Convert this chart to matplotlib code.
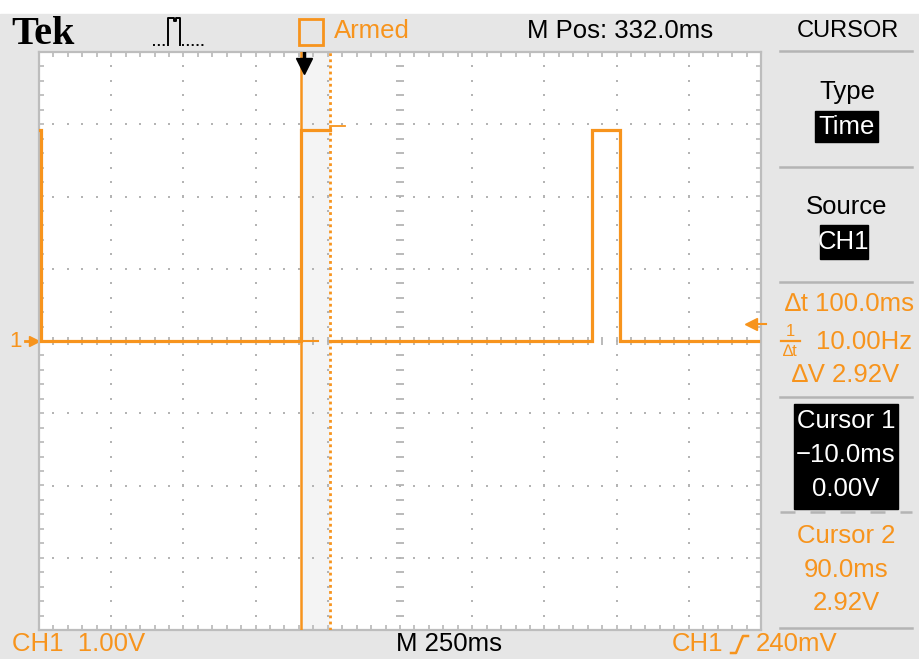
import numpy as np
import matplotlib.pyplot as plt
from matplotlib.patches import Rectangle
from matplotlib.lines import Line2D

W, H = 920, 659
ORANGE = '#f7941d'
GRID = '#b4b4b4'
PANEL = '#e6e6e6'
FONT = ['Liberation Sans', 'DejaVu Sans']
FS = 18.5

# trace, ms relative to the trigger (M Pos 332.0ms at screen centre), volts
t_left = [-918, -911, -911, -10, -10, 90]
v_left = [2.92, 2.92, 0, 0, 2.92, 2.92]
t_stub_lo = [-10, 48]
v_stub_lo = [0, 0]
t_stub_hi = [90, 142]
v_stub_hi = [2.97, 2.97]
t_right = [90, 997, 997, 1094, 1094, 1572]
v_right = [0, 0, 2.92, 2.92, 0, 0]

cursor1_t = -10
cursor2_t = 90
trig_t = 0
trig_level = 0.24
x_range = (-918, 1582)   # 10 div x 250ms
v_range = (-4, 4)        # 8 div x 1.00V


def fx(x):
    return x / W


def fy(y):
    return 1 - y / H


fig = plt.figure(figsize=(W / 100, H / 100), dpi=100)
fig.patch.set_facecolor('white')
fig.add_artist(Rectangle((0, 0), 1, fy(14), transform=fig.transFigure,
                         color=PANEL, zorder=0))

ax = fig.add_axes([fx(39), fy(630), 722 / W, 578 / H])
ax.set_facecolor('white')
ax.set_xlim(*x_range)
ax.set_ylim(*v_range)
ax.set_xticks([])
ax.set_yticks([])
for s in ax.spines.values():
    s.set_color('#bdbdbd')
    s.set_linewidth(1.6)

div_t = np.arange(x_range[0], x_range[1] + 1, 250)
div_v = np.arange(v_range[0], v_range[1] + 1, 1)
fine_t = np.arange(x_range[0], x_range[1] + 1, 50)
fine_v = np.arange(v_range[0], v_range[1] + 0.01, 0.2)
centre_t = div_t[5]

# dotted graticule
for t in div_t[1:-1]:
    if t == centre_t:
        ax.plot(np.full_like(fine_v, t), fine_v, ls='none', marker='_',
                ms=6, mew=1.3, color=GRID, zorder=1)
    else:
        ax.plot(np.full_like(fine_v, t), fine_v, ls='none', marker='s',
                ms=1.8, mew=0, color=GRID, zorder=1)
for v in div_v[1:-1]:
    if v == 0:
        ax.plot(fine_t, np.zeros_like(fine_t), ls='none', marker='|',
                ms=6, mew=1.3, color=GRID, zorder=1)
    else:
        ax.plot(fine_t, np.full_like(fine_t, v), ls='none', marker='s',
                ms=1.8, mew=0, color=GRID, zorder=1)

# border ticks
for v in v_range:
    ax.plot(fine_t, np.full_like(fine_t, v), ls='none', marker='|',
            ms=7, mew=1.3, color='#bdbdbd', zorder=1)
for t in x_range:
    ax.plot(np.full_like(fine_v, t), fine_v, ls='none', marker='_',
            ms=7, mew=1.3, color='#bdbdbd', zorder=1)

# region between cursors
ax.axvspan(cursor1_t, cursor2_t, color='#f4f4f4', zorder=0.5, lw=0)

# cursors
ax.axvline(cursor1_t, color=ORANGE, lw=1.8, zorder=3)
ax.axvline(cursor2_t, color=ORANGE, lw=2, ls=(0, (1, 1.2)), zorder=3)

# trace
ax.plot(t_left, v_left, color=ORANGE, lw=2.3, zorder=4, solid_joinstyle='miter')
ax.plot(t_stub_lo, v_stub_lo, color=ORANGE, lw=1.5, zorder=4)
ax.plot(t_stub_hi, v_stub_hi, color=ORANGE, lw=1.3, zorder=4)
ax.plot(t_right, v_right, color=ORANGE, lw=2.3, zorder=4, solid_joinstyle='miter')

# trigger position marker
ax.plot([trig_t, trig_t], [4, 3.85], color='black', lw=2.5, zorder=5)
ax.plot([trig_t], [3.8], marker='v', ms=11, color='black', zorder=5)

# trigger level marker
ax.plot([1548], [trig_level], marker='<', ms=9, color=ORANGE, zorder=5)
ax.plot([1555, 1600], [trig_level, trig_level], color=ORANGE, lw=1.5,
        zorder=5, clip_on=False)

# channel 1 ground marker
ax.plot([-965, -930], [0, 0], color=ORANGE, lw=2, clip_on=False)
ax.plot([-935], [0], marker='>', ms=7, color=ORANGE, clip_on=False)
ax.annotate('1', xy=(0, 0), xycoords=('axes fraction', 'data'),
            xytext=(-23, 0), textcoords='offset pixels', color=ORANGE,
            fontsize=16, family=FONT, ha='center', va='center',
            annotation_clip=False)

# header
fig.text(fx(11), fy(35), 'Tek', family='Liberation Serif', weight='bold',
         fontsize=29, va='center', ha='left')
icon_x = [168, 168, 174, 174, 176, 176, 180, 180]
icon_y = [45, 18, 18, 21, 21, 18, 18, 45]
fig.add_artist(Line2D([fx(x) for x in icon_x], [fy(y) for y in icon_y],
                      color='black', lw=1.4, transform=fig.transFigure))
for a, b in [(153, 167), (182, 205)]:
    fig.add_artist(Line2D([fx(a), fx(b)], [fy(45), fy(45)], color='black',
                          lw=1.4, ls=(0, (1, 1.5)), transform=fig.transFigure))
fig.add_artist(Rectangle((fx(299), fy(45)), 24 / W, 26 / H, fill=False,
                         ec=ORANGE, lw=2, transform=fig.transFigure))
fig.text(fx(334), fy(31), 'Armed', color=ORANGE, family=FONT, fontsize=FS,
         va='center', ha='left')
fig.text(fx(620), fy(31), 'M Pos: 332.0ms', family=FONT, fontsize=FS,
         va='center', ha='center')
fig.text(fx(848), fy(31), 'CURSOR', family=FONT, fontsize=17,
         va='center', ha='center')


def divider(y, dashed=False):
    fig.add_artist(Line2D([fx(780), fx(912)], [fy(y), fy(y)], color='#b4b4b4',
                          lw=1.8, ls=(0, (6, 6)) if dashed else '-',
                          transform=fig.transFigure))


def box(x0, y0, x1, y1):
    fig.add_artist(Rectangle((fx(x0), fy(y1)), (x1 - x0) / W, (y1 - y0) / H,
                             color='black', transform=fig.transFigure))


def label(x, y, s, color='black', size=FS, ha='center'):
    fig.text(fx(x), fy(y), s, color=color, family=FONT, fontsize=size,
             va='center', ha=ha)


divider(51)
label(847, 92, 'Type')
box(815, 111, 878, 142)
label(847, 127, 'Time', color='white')
divider(167)
label(847, 207, 'Source')
box(820, 225, 868, 259)
label(844, 242, 'CH1', color='white')
divider(282)
label(914, 304, '\u2206t 100.0ms', color=ORANGE, ha='right')
label(790, 332, '1', color=ORANGE, size=12)
fig.add_artist(Line2D([fx(781), fx(800)], [fy(341), fy(341)], color=ORANGE,
                      lw=1.6, transform=fig.transFigure))
label(790, 351, '\u2206t', color=ORANGE, size=12)
label(912, 342, '10.00Hz', color=ORANGE, ha='right')
label(846, 375, '\u2206V 2.92V', color=ORANGE)
divider(397)
box(794, 404, 898, 509)
label(846, 421, 'Cursor 1', color='white')
label(846, 455, '\u221210.0ms', color='white')
label(846, 489, '0.00V', color='white')
divider(512, dashed=True)
label(846, 536, 'Cursor 2', color=ORANGE)
label(846, 570, '90.0ms', color=ORANGE)
label(846, 603, '2.92V', color=ORANGE)
divider(628)

# footer
label(12, 644, 'CH1  1.00V', color=ORANGE, ha='left')
label(449, 644, 'M 250ms')
label(672, 644, 'CH1', color=ORANGE, ha='left')
slope_x = [731, 736, 743, 748]
slope_y = [653, 653, 636, 636]
fig.add_artist(Line2D([fx(x) for x in slope_x], [fy(y) for y in slope_y],
                      color=ORANGE, lw=1.8, transform=fig.transFigure))
label(756, 644, '240mV', color=ORANGE, ha='left')

fig.savefig('out.png', dpi=100, facecolor=fig.get_facecolor())
